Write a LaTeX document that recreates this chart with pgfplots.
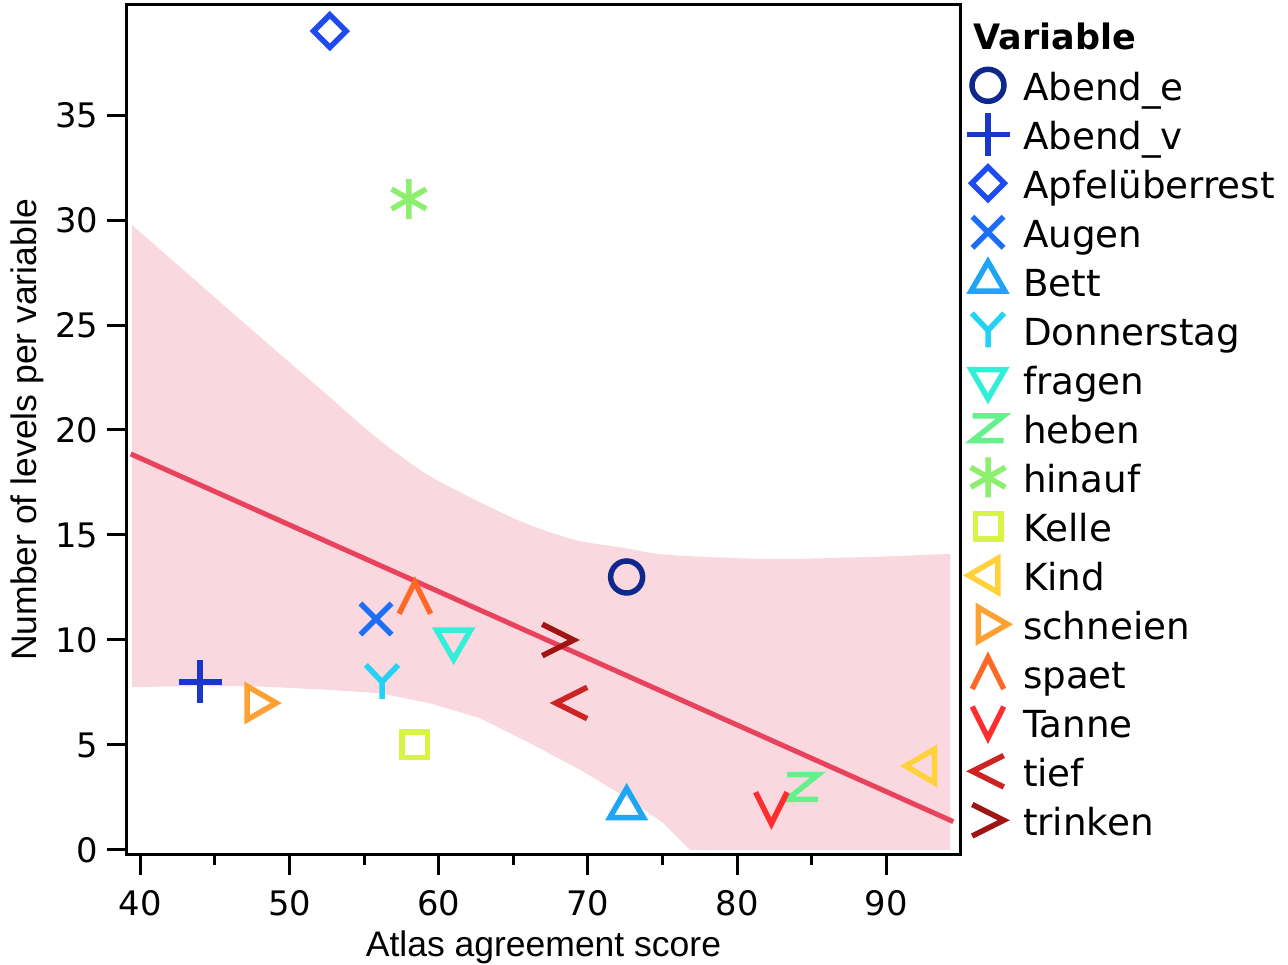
\documentclass[border=0pt]{standalone}
\usepackage{pgfplots}
\pgfplotsset{compat=1.18}
\usepgfplotslibrary{fillbetween}
\usetikzlibrary{plotmarks}
\usepackage{fontspec}
\setmainfont{DejaVu Sans}
\newfontfamily\arialfont{Liberation Sans}

\definecolor{band}{RGB}{249,217,223}
\definecolor{fitline}{RGB}{232,66,92}
\definecolor{cAbendE}{RGB}{15,40,140}
\definecolor{cAbendV}{RGB}{25,55,200}
\definecolor{cApfel}{RGB}{30,75,240}
\definecolor{cAugen}{RGB}{30,110,245}
\definecolor{cBett}{RGB}{30,165,245}
\definecolor{cDonner}{RGB}{35,210,245}
\definecolor{cFragen}{RGB}{50,240,215}
\definecolor{cHeben}{RGB}{100,240,140}
\definecolor{cHinauf}{RGB}{140,240,110}
\definecolor{cKelle}{RGB}{215,245,70}
\definecolor{cKind}{RGB}{255,210,60}
\definecolor{cSchnei}{RGB}{255,160,50}
\definecolor{cSpaet}{RGB}{255,105,40}
\definecolor{cTanne}{RGB}{255,45,45}
\definecolor{cTief}{RGB}{205,35,35}
\definecolor{cTrinken}{RGB}{160,20,20}

% caret (^), rotated for v < >
\pgfdeclareplotmark{caret}{%
  \pgfpathmoveto{\pgfqpoint{-\pgfplotmarksize}{-\pgfplotmarksize}}%
  \pgfpathlineto{\pgfqpoint{0pt}{\pgfplotmarksize}}%
  \pgfpathlineto{\pgfqpoint{\pgfplotmarksize}{-\pgfplotmarksize}}%
  \pgfusepathqstroke}
\pgfdeclareplotmark{zmark}{%
  \pgfpathmoveto{\pgfqpoint{-\pgfplotmarksize}{0.8\pgfplotmarksize}}%
  \pgfpathlineto{\pgfqpoint{\pgfplotmarksize}{0.8\pgfplotmarksize}}%
  \pgfpathlineto{\pgfqpoint{-\pgfplotmarksize}{-0.8\pgfplotmarksize}}%
  \pgfpathlineto{\pgfqpoint{\pgfplotmarksize}{-0.8\pgfplotmarksize}}%
  \pgfusepathqstroke}
\pgfdeclareplotmark{ymark}{%
  \pgfpathmoveto{\pgfqpoint{-0.95\pgfplotmarksize}{\pgfplotmarksize}}%
  \pgfpathlineto{\pgfqpoint{0pt}{0pt}}%
  \pgfpathlineto{\pgfqpoint{0.95\pgfplotmarksize}{\pgfplotmarksize}}%
  \pgfpathmoveto{\pgfqpoint{0pt}{0pt}}%
  \pgfpathlineto{\pgfqpoint{0pt}{-\pgfplotmarksize}}%
  \pgfusepathqstroke}

\begin{document}
\begin{tikzpicture}
\begin{axis}[
  at={(0pt,0pt)}, anchor=south west,
  scale only axis, width=333.2pt, height=340pt,
  xmin=39.1, xmax=94.95, ymin=-0.24, ymax=40.24,
  axis line style={line width=1.2pt},
  xtick={40,50,...,90}, minor xtick={45,55,...,85},
  ytick={0,5,...,35},
  tick align=outside, tick pos=left,
  major tick length=8pt, minor tick length=4pt,
  every tick/.style={line width=1.2pt, black},
  ticklabel style={font=\fontsize{13.5}{16}\selectfont},
  xticklabel style={yshift=-2.8pt},
  /pgf/number format/assume math mode=true,
  xlabel={Atlas agreement score},
  ylabel={Number of levels per variable},
  label style={font=\arialfont\fontsize{14.2}{17}\selectfont},
  xlabel style={at={(axis description cs:0.5,-0.12)}, anchor=base},
  ylabel style={at={(axis description cs:-0.12,0.5)}, anchor=center},
  every axis plot/.append style={line width=2.2pt},
  legend style={at={(axis description cs:1.0096,0.9176)}, anchor=north west,
    draw=none, fill=none, inner sep=0pt, outer sep=0pt,
    row sep=6.6pt, column sep=5pt,
    font=\fontsize{14.9}{17}\selectfont,
    nodes={inner sep=0pt, text height=10pt, text depth=3pt}},
  legend cell align=left,
  legend image code/.code={\path[draw=none,fill=none] (0pt,0pt) rectangle (17pt,0.1pt);
    \draw[#1,overlay] plot coordinates {(8.0pt,2.4pt)};},
]
% confidence band
\addplot[draw=none, smooth, name path=up, forget plot] coordinates {
  (39.44,29.76) (45.7,25.87) (49.05,23.8) (52.4,21.75)
  (55.75,19.68) (59.1,17.94) (62.45,16.67) (65.8,15.56) (69.16,14.76)
  (72.3,14.4) (75.3,14.06) (82.0,13.86) (88.7,13.95) (94.3,14.1)};
\addplot[draw=none, name path=lo, forget plot] coordinates {
  (39.44,7.76) (44.0,7.8) (47.6,7.8) (52.73,7.62) (56.1,7.46) (59.44,6.98)
  (62.79,6.27) (66.14,5.08) (69.5,3.81) (72.84,2.38) (75.07,1.27)
  (76.86,0) (94.3,0)};
\addplot[fill=band, draw=none, forget plot] fill between[of=up and lo];

\addplot[only marks, color=cAbendE, mark=o, mark size=6.4pt] coordinates {(72.6,13)};
\addlegendentry{Abend\_e}
\addplot[only marks, color=cAbendV, mark=+, mark size=8.6pt] coordinates {(44.0,8)};
\addlegendentry{Abend\_v}
\addplot[only marks, color=cApfel, mark=square, mark size=4.6pt, mark options={rotate=45}] coordinates {(52.7,39)};
\addlegendentry{Apfelüberrest}
\addplot[only marks, color=cAugen, mark=x, mark size=8.8pt] coordinates {(55.8,11)};
\addlegendentry{Augen}
\addplot[only marks, color=cBett, mark=triangle, mark size=7.8pt] coordinates {(72.6,2)};
\addlegendentry{Bett}
\addplot[only marks, color=cDonner, mark=ymark, mark size=6.8pt] coordinates {(56.2,8)};
\addlegendentry{Donnerstag}
\addplot[only marks, color=cFragen, mark=triangle, mark size=7.8pt, mark options={rotate=180}] coordinates {(61.0,10)};
\addlegendentry{fragen}
\addplot[only marks, color=cHeben, mark=zmark, mark size=6.2pt] coordinates {(84.4,3)};
\addlegendentry{heben}
\addplot[only marks, color=cHinauf, mark=asterisk, mark size=8pt] coordinates {(58.0,31)};
\addlegendentry{hinauf}
\addplot[only marks, color=cKelle, mark=square, mark size=5.1pt] coordinates {(58.4,5)};
\addlegendentry{Kelle}
\addplot[only marks, color=cKind, mark=triangle, mark size=7.8pt, mark options={rotate=90}] coordinates {(92.6,4)};
\addlegendentry{Kind}
\addplot[only marks, color=cSchnei, mark=triangle, mark size=7.8pt, mark options={rotate=-90}] coordinates {(47.8,7)};
\addlegendentry{schneien}
\addplot[only marks, color=cSpaet, mark=caret, mark size=6.3pt] coordinates {(58.4,12)};
\addlegendentry{spaet}
\addplot[only marks, color=cTanne, mark=caret, mark size=6.3pt, mark options={rotate=180}] coordinates {(82.3,2)};
\addlegendentry{Tanne}
\addplot[only marks, color=cTief, mark=caret, mark size=6.3pt, mark options={rotate=90}] coordinates {(68.9,7)};
\addlegendentry{tief}
\addplot[only marks, color=cTrinken, mark=caret, mark size=6.3pt, mark options={rotate=-90}] coordinates {(68.0,10)};
\addlegendentry{trinken}

% fitted line
\addplot[color=fitline, line width=2pt, forget plot] coordinates {(39.35,18.86) (94.5,1.35)};
\end{axis}
\node[anchor=base west, inner sep=0pt, font=\bfseries\fontsize{14}{17}\selectfont]
  at (338.4pt,322pt) {Variable};
\pgfresetboundingbox
\path[use as bounding box] (-50.8pt,-44pt) rectangle (464.4pt,342pt);
\end{tikzpicture}
\end{document}
